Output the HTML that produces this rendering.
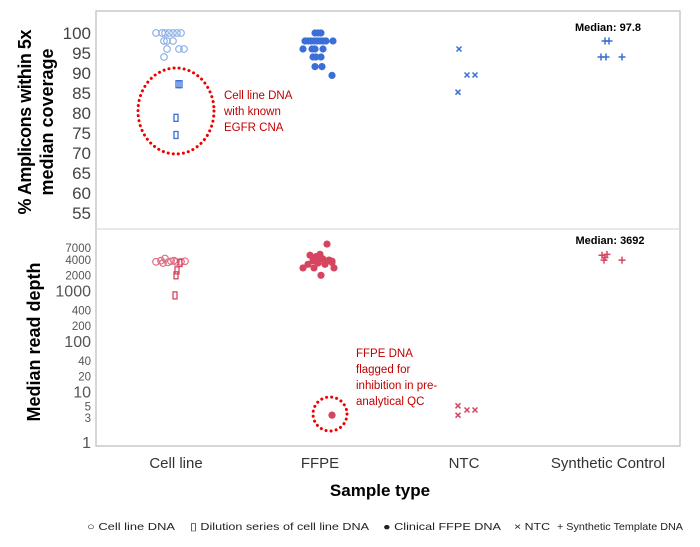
<!DOCTYPE html>
<html><head><meta charset="utf-8"><style>
body{margin:0;background:#fff;width:700px;height:542px;overflow:hidden;font-family:"Liberation Sans",sans-serif}
</style></head><body>
<svg id="chart" width="700" height="542" viewBox="0 0 700 542" xmlns="http://www.w3.org/2000/svg">
<rect x="96" y="11" width="584" height="435" fill="#fff" stroke="#c8c8c8" stroke-width="1.5"/>
<line x1="96" y1="229" x2="680" y2="229" stroke="#e0e0e0" stroke-width="1.5"/>
<g id="axes"></g>
<g id="marks"></g>
<text transform="translate(31,122) rotate(-90)" text-anchor="middle" font-size="18" font-weight="bold" textLength="185">% Amplicons within 5x</text>
<text transform="translate(53,122) rotate(-90)" text-anchor="middle" font-size="18" font-weight="bold">median coverage</text>
<text transform="translate(40,342) rotate(-90)" text-anchor="middle" font-size="18" font-weight="bold">Median read depth</text>
<text x="380" y="496" text-anchor="middle" font-size="17" font-weight="bold">Sample type</text>
<text x="608" y="31" text-anchor="middle" font-size="11" font-weight="bold">Median: 97.8</text>
<text x="610" y="244" text-anchor="middle" font-size="11" font-weight="bold">Median: 3692</text>
<ellipse cx="176" cy="111" rx="38" ry="43" fill="none" stroke="#e00" stroke-width="3" stroke-dasharray="0.1 5" stroke-linecap="round"/>
<g font-size="11.5" fill="#c00000">
<text x="224" y="99">Cell line DNA</text><text x="224" y="115">with known</text><text x="224" y="131">EGFR CNA</text></g>
<circle cx="330" cy="414" r="17" fill="none" stroke="#e00" stroke-width="3" stroke-dasharray="0.1 5" stroke-linecap="round"/>
<g font-size="11.5" fill="#c00000">
<text x="356" y="357">FFPE DNA</text><text x="356" y="373">flagged for</text><text x="356" y="389">inhibition in pre-</text><text x="356" y="405">analytical QC</text></g>
<g font-size="10.5" fill="#222">
<text x="87" y="530" textLength="88" lengthAdjust="spacingAndGlyphs">○ Cell line DNA</text>
<text x="190" y="530" textLength="179" lengthAdjust="spacingAndGlyphs">▯ Dilution series of cell line DNA</text>
<text x="383" y="530" textLength="118" lengthAdjust="spacingAndGlyphs">● Clinical FFPE DNA</text>
<text x="514" y="530" textLength="36" lengthAdjust="spacingAndGlyphs">× NTC</text>
<text x="557" y="530" textLength="126" lengthAdjust="spacingAndGlyphs">+ Synthetic Template DNA</text>
</g>
</svg>
<script>
const categories=["Cell line","FFPE","NTC","Synthetic Control"];
const upperTicks=[100,95,90,85,80,75,70,65,60,55];
const lowerTicks=[7000,4000,2000,1000,400,200,100,40,20,10,5,3,1];
// upper panel: [category index, jitter, value]
const upCell=[[0,-20,100],[0,-14,100],[0,-11,100],[0,-7,100],[0,-3,100],[0,1,100],[0,5,100],[0,-12,98],[0,-9,98],[0,-3,98],[0,-9,96],[0,3,96],[0,8,96],[0,-12,94]];
const upDil=[[0,2,87.2],[0,4,87.2],[0,0,78.8],[0,0,74.5]];
const upFFPE=[[1,-5,100],[1,-2,100],[1,1,100],[1,-15,98],[1,-12,98],[1,-9,98],[1,-6,98],[1,-3,98],[1,0,98],[1,3,98],[1,6,98],[1,13,98],[1,-17,96],[1,-8,96],[1,-5,96],[1,3,96],[1,-7,94],[1,-4,94],[1,1,94],[1,-5,91.6],[1,2,91.6],[1,12,89.4]];
const upNTC=[[2,-5,96],[2,3,89.5],[2,11,89.5],[2,-6,85.2]];
const upSyn=[[3,-3,98],[3,1,98],[3,-7,94],[3,-2,94],[3,14,94]];
// lower panel
const loCell=[[0,-20,3700],[0,-15,3900],[0,-11,4300],[0,-8,3600],[0,-5,3800],[0,0,3700],[0,5,3700],[0,9,3800],[0,-13,3500],[0,-2,3900]];
const loDil=[[0,4,3500],[0,1,2500],[0,0,2000],[0,-1,800]];
const loFFPE=[[1,7,8300],[1,-10,5000],[1,-4,4700],[1,0,5200],[1,3,4200],[1,-7,3900],[1,-2,3500],[1,5,3300],[1,9,4000],[1,-12,3300],[1,-17,2800],[1,-6,2800],[1,14,2800],[1,1,2000],[1,12,3600],[1,-3,4400],[1,12,3800]];
const loOut=[[1,12,3.4]];
const loNTC=[[2,-6,5.2],[2,-6,3.4],[2,3,4.3],[2,11,4.3]];
const loSyn=[[3,-6,5000],[3,-3,4500],[3,-1,5200],[3,-4,4000],[3,14,4000]];

const catX=i=>176+i*144;
const yUp=v=>33+(100-v)*4;
const yLo=v=>442-50.5*Math.log10(v);
const NS="http://www.w3.org/2000/svg";
const axes=document.getElementById('axes'),marks=document.getElementById('marks');
function mk(tag,attrs,parent){const e=document.createElementNS(NS,tag);for(const k in attrs)e.setAttribute(k,attrs[k]);parent.appendChild(e);return e;}
upperTicks.forEach(t=>{
 const e=mk('text',{x:91,y:yUp(t)+6,'text-anchor':'end','font-size':17,fill:'#444'},axes);e.textContent=t;
 
 
});
lowerTicks.forEach(t=>{
 const big=(t===1000||t===100||t===10||t===1);
 const e=mk('text',{x:91,y:yLo(t)+(big?6:4),'text-anchor':'end','font-size':big?16:11.5,fill:'#555'},axes);e.textContent=t;
 
 
});
categories.forEach((c,i)=>{
 const e=mk('text',{x:catX(i),y:468,'text-anchor':'middle','font-size':15,fill:'#333'},axes);e.textContent=c;
 
 
});
function draw(arr,yf,shape,col,name){
 arr.forEach(p=>{
  const x=catX(p[0])+p[1],y=yf(p[2]);let e;
  if(shape==='o')e=mk('circle',{cx:x,cy:y,r:3.3,fill:'none',stroke:col,'stroke-width':1.2},marks);
  else if(shape==='f')e=mk('circle',{cx:x,cy:y,r:3.6,fill:col},marks);
  else if(shape==='s')e=mk('rect',{x:x-2,y:y-3.5,width:4,height:7,fill:'none',stroke:col,'stroke-width':1.3},marks);
  else if(shape==='x')e=mk('path',{d:`M${x-2.5},${y-2.5}L${x+2.5},${y+2.5}M${x+2.5},${y-2.5}L${x-2.5},${y+2.5}`,stroke:col,'stroke-width':1.5},marks);
  else e=mk('path',{d:`M${x-3.5},${y}H${x+3.5}M${x},${y-3.5}V${y+3.5}`,stroke:col,'stroke-width':1.5},marks);
  
  
 });
}
const B='#3a6fd8',BL='#8fb0e6',R='#d64560';
draw(upCell,yUp,'o',BL,'cell-line-point');
draw(upDil,yUp,'s',B,'dilution-point');
draw(upFFPE,yUp,'f',B,'ffpe-point');
draw(upNTC,yUp,'x',B,'ntc-point');
draw(upSyn,yUp,'+',B,'synthetic-point');
draw(loCell,yLo,'o','#e07088','cell-line-depth-point');
draw(loDil,yLo,'s',R,'dilution-depth-point');
draw(loFFPE,yLo,'f',R,'ffpe-depth-point');
draw(loOut,yLo,'f',R,'ffpe-outlier-point');
draw(loNTC,yLo,'x',R,'ntc-depth-point');
draw(loSyn,yLo,'+',R,'synthetic-depth-point');
</script>
</body></html>
